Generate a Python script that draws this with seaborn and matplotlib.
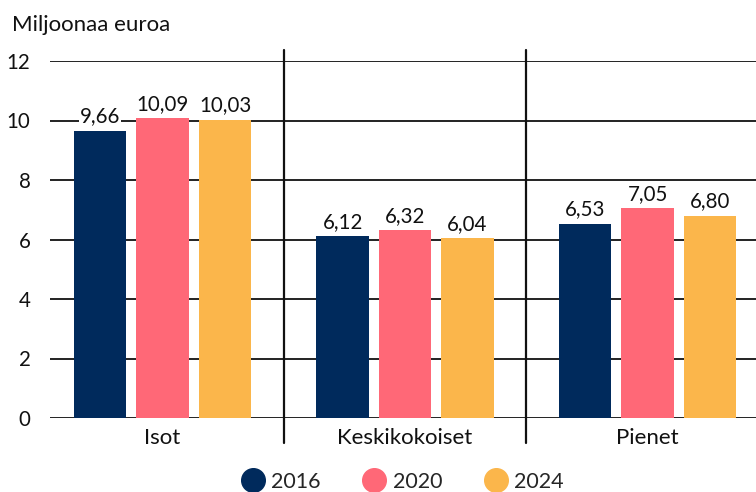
import seaborn as sns
import pandas as pd
import matplotlib.pyplot as plt
from matplotlib.lines import Line2D

# Data
categories = ['Isot', 'Keskikokoiset', 'Pienet']
years = ['2016', '2020', '2024']
values_2016 = [9.66, 6.12, 6.53]
values_2020 = [10.09, 6.32, 7.05]
values_2024 = [10.03, 6.04, 6.80]
colors = ['#002a5c', '#ff6877', '#fbb64b']

rows = []
for year, vals in zip(years, [values_2016, values_2020, values_2024]):
    for cat, v in zip(categories, vals):
        rows.append({'Koko': cat, 'Vuosi': year, 'Arvo': v})
df = pd.DataFrame(rows)

sns.set_theme(style='white')
plt.rcParams['font.family'] = ['Lato', 'DejaVu Sans']

fig = plt.figure(figsize=(7.56, 4.92), dpi=100)
ax = fig.add_axes([50 / 756, 74 / 492, 706 / 756, 357 / 492])

sns.barplot(data=df, x='Koko', y='Arvo', hue='Vuosi', palette=colors,
            width=0.773, gap=0.16, ax=ax, legend=False, saturation=1,
            linewidth=0, zorder=3)

ax.set_ylim(0, 12)
ax.set_xlim(-0.464, 2.447)
ax.set_yticks(range(0, 13, 2))
ax.yaxis.grid(True, color='#222222', linewidth=1.4)
ax.xaxis.grid(False)
ax.set_axisbelow(True)
for s in ax.spines.values():
    s.set_visible(False)
ax.tick_params(axis='both', length=0, colors='#111111')
ax.tick_params(axis='y', pad=14, labelsize=14.8)
ax.tick_params(axis='x', pad=7, labelsize=16)
ax.set_xlabel('')
ax.set_ylabel('')

# vertical separators between groups
for xs in [0.5, 1.5]:
    ax.axvline(xs, ymin=-0.07, ymax=1.031, color='#111111', linewidth=1.6, clip_on=False, zorder=4)

for cont in ax.containers:
    labels = ax.bar_label(cont, labels=[f'{b.get_height():.2f}'.replace('.', ',') for b in cont],
                          padding=3, fontsize=14.8, color='#111111')
    for t in labels:
        t.set_bbox(dict(facecolor='white', edgecolor='none', pad=0.5))
        t.set_zorder(5)

fig.text(12 / 756, 1 - 25 / 492, 'Miljoonaa euroa', fontsize=16, color='#111111', va='center', ha='left')

handles = [Line2D([], [], marker='o', linestyle='', markersize=17, color=c) for c in colors]
fig.legend(handles, years, loc='center', bbox_to_anchor=(402 / 756, 1 - 482 / 492), ncol=3,
           frameon=False, fontsize=15.5, handletextpad=0.25, columnspacing=1.9, handlelength=1.2)

fig.savefig('out.png', dpi=100)
